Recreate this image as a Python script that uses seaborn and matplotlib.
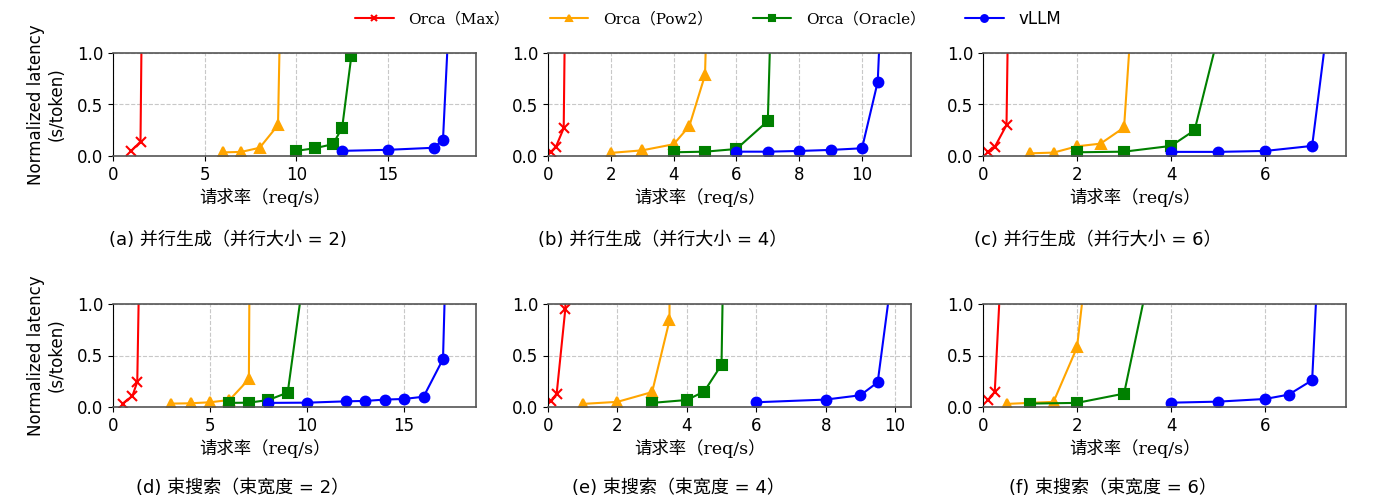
import matplotlib
matplotlib.use("Agg")
import matplotlib.pyplot as plt
import seaborn as sns

# request rate (req/s) and normalized latency (s/token) per panel
# (last point of each series lies above the 1.0 clip)
a_max_x = [1.0, 1.5, 1.6]
a_max_y = [0.05, 0.14, 1.9]
a_pow2_x = [6, 7, 8, 9, 9.3]
a_pow2_y = [0.035, 0.04, 0.08, 0.30, 3.0]
a_oracle_x = [10, 11, 12, 12.5, 13, 13.4]
a_oracle_y = [0.05, 0.075, 0.115, 0.275, 0.97, 5.0]
a_vllm_x = [12.5, 15, 17.5, 18, 18.9]
a_vllm_y = [0.05, 0.06, 0.08, 0.16, 3.45]

b_max_x = [0.1, 0.25, 0.5, 0.6]
b_max_y = [0.04, 0.088, 0.27, 3.0]
b_pow2_x = [2, 3, 4, 4.5, 5, 5.2]
b_pow2_y = [0.03, 0.055, 0.114, 0.29, 0.785, 3.0]
b_oracle_x = [4, 5, 6, 7, 7.25]
b_oracle_y = [0.036, 0.042, 0.068, 0.34, 3.0]
b_vllm_x = [6, 7, 8, 9, 10, 10.5, 11.0]
b_vllm_y = [0.042, 0.042, 0.049, 0.059, 0.075, 0.72, 4.2]

c_max_x = [0.1, 0.25, 0.5, 0.6]
c_max_y = [0.04, 0.088, 0.30, 3.5]
c_pow2_x = [1, 1.5, 2, 2.5, 3, 3.4]
c_pow2_y = [0.026, 0.033, 0.094, 0.12, 0.277, 3.0]
c_oracle_x = [2, 3, 4, 4.5, 6.0]
c_oracle_y = [0.036, 0.042, 0.098, 0.25, 3.0]
c_vllm_x = [4, 5, 6, 7, 7.36]
c_vllm_y = [0.04, 0.04, 0.049, 0.098, 1.4]

d_max_x = [0.5, 1.0, 1.25, 1.5]
d_max_y = [0.033, 0.107, 0.245, 3.0]
d_pow2_x = [3, 4, 5, 6, 7, 7.1]
d_pow2_y = [0.033, 0.036, 0.046, 0.068, 0.27, 3.5]
d_oracle_x = [6, 7, 8, 9, 11]
d_oracle_y = [0.04, 0.042, 0.068, 0.14, 2.9]
d_vllm_x = [8, 10, 12, 13, 14, 15, 16, 17, 17.83]
d_vllm_y = [0.04, 0.042, 0.055, 0.059, 0.072, 0.078, 0.10, 0.465, 6.2]

e_max_x = [0.1, 0.25, 0.5, 0.6]
e_max_y = [0.059, 0.13, 0.955, 3.0]
e_pow2_x = [1, 2, 3, 3.5, 3.53]
e_pow2_y = [0.03, 0.05, 0.145, 0.84, 5.0]
e_oracle_x = [3, 4, 4.5, 5, 5.2]
e_oracle_y = [0.04, 0.068, 0.15, 0.41, 4.5]
e_vllm_x = [6, 8, 9, 9.5, 10.0]
e_vllm_y = [0.046, 0.072, 0.114, 0.24, 1.52]

f_max_x = [0.1, 0.25, 0.5]
f_max_y = [0.065, 0.147, 2.4]
f_pow2_x = [0.5, 1.5, 2, 2.5]
f_pow2_y = [0.03, 0.05, 0.58, 2.6]
f_oracle_x = [1, 2, 3, 4]
f_oracle_y = [0.033, 0.04, 0.13, 2.3]
f_vllm_x = [4, 5, 6, 6.5, 7, 7.36]
f_vllm_y = [0.042, 0.052, 0.078, 0.12, 0.26, 3.6]

series_names = ["Orca（Max）", "Orca（Pow2）", "Orca（Oracle）", "vLLM"]
series_colors = ["red", "orange", "green", "blue"]
series_markers = ["x", "^", "s", "o"]

panels = [
    ([a_max_x, a_pow2_x, a_oracle_x, a_vllm_x], [a_max_y, a_pow2_y, a_oracle_y, a_vllm_y]),
    ([b_max_x, b_pow2_x, b_oracle_x, b_vllm_x], [b_max_y, b_pow2_y, b_oracle_y, b_vllm_y]),
    ([c_max_x, c_pow2_x, c_oracle_x, c_vllm_x], [c_max_y, c_pow2_y, c_oracle_y, c_vllm_y]),
    ([d_max_x, d_pow2_x, d_oracle_x, d_vllm_x], [d_max_y, d_pow2_y, d_oracle_y, d_vllm_y]),
    ([e_max_x, e_pow2_x, e_oracle_x, e_vllm_x], [e_max_y, e_pow2_y, e_oracle_y, e_vllm_y]),
    ([f_max_x, f_pow2_x, f_oracle_x, f_vllm_x], [f_max_y, f_pow2_y, f_oracle_y, f_vllm_y]),
]
x_limits = [19.8, 11.56, 7.72, 18.7, 10.46, 7.72]
x_ticks = [[0, 5, 10, 15], [0, 2, 4, 6, 8, 10], [0, 2, 4, 6],
           [0, 5, 10, 15], [0, 2, 4, 6, 8, 10], [0, 2, 4, 6]]
captions = ["(a) 并行生成（并行大小 = 2)", "(b) 并行生成（并行大小 = 4）", "(c) 并行生成（并行大小 = 6）",
            "(d) 束搜索（束宽度 = 2）", "(e) 束搜索（束宽度 = 4）", "(f) 束搜索（束宽度 = 6）"]

sns.set_style("ticks")
plt.rcParams["font.family"] = ["DejaVu Sans", "Noto Sans CJK SC"]
for key in ["text.color", "axes.labelcolor", "xtick.color", "ytick.color"]:
    plt.rcParams[key] = "black"
serif_cjk = ["DejaVu Serif", "Noto Sans CJK SC"]

W, H = 1378, 503
fig = plt.figure(figsize=(W / 100, H / 100), dpi=100)

col_left = [113, 548, 983]
row_top = [53, 304]
ax_w, ax_h = 363, 103

for i, (xs, ys) in enumerate(panels):
    r, c = divmod(i, 3)
    ax = fig.add_axes([col_left[c] / W, 1 - (row_top[r] + ax_h) / H, ax_w / W, ax_h / H])
    for k in range(4):
        sns.lineplot(x=xs[k], y=ys[k], ax=ax, color=series_colors[k], marker=series_markers[k],
                     markersize=7, markeredgecolor=series_colors[k], markeredgewidth=1.5,
                     linewidth=1.5, label=series_names[k], estimator=None, sort=False, legend=False)
    ax.set_xlim(0, x_limits[i])
    ax.set_ylim(0, 1.0)
    ax.set_xticks(x_ticks[i])
    ax.set_yticks([0.0, 0.5, 1.0])
    ax.tick_params(labelsize=12, length=3.5, width=0.8)
    ax.grid(True, linestyle="--", color="#c8c8c8", linewidth=0.8)
    ax.set_axisbelow(True)
    for side in ["top", "bottom", "right"]:
        ax.spines[side].set_color("#555555")
        ax.spines[side].set_linewidth(1.2)
    ax.spines["left"].set_color("black")
    ax.set_xlabel("请求率（req/s）", fontsize=12.5, family=serif_cjk)
    ax.xaxis.set_label_coords(0.418, -0.31)
    if c == 0:
        ax.set_ylabel("Normalized latency\n(s/token)", fontsize=12, labelpad=8)
    else:
        ax.set_ylabel("")
    cap_y = 240 if r == 0 else 488
    cap_dx = 115 if r == 0 else 130
    fig.text((col_left[c] + cap_dx) / W, 1 - cap_y / H, captions[i], fontsize=13,
             family=["DejaVu Sans", "Noto Sans CJK SC"], ha="center", va="center")
    if i == 0:
        handles, labels = ax.get_legend_handles_labels()

leg = fig.legend(handles, labels, loc="upper center", bbox_to_anchor=(0.514, 1.01), ncol=4,
                 frameon=False, fontsize=12, handlelength=2.3, handletextpad=0.9,
                 columnspacing=2.4, markerscale=0.7)
for t in leg.get_texts():
    if t.get_text().startswith("Orca"):
        t.set_fontfamily(serif_cjk)
        t.set_fontsize(11)

fig.savefig("out.png", dpi=100)
